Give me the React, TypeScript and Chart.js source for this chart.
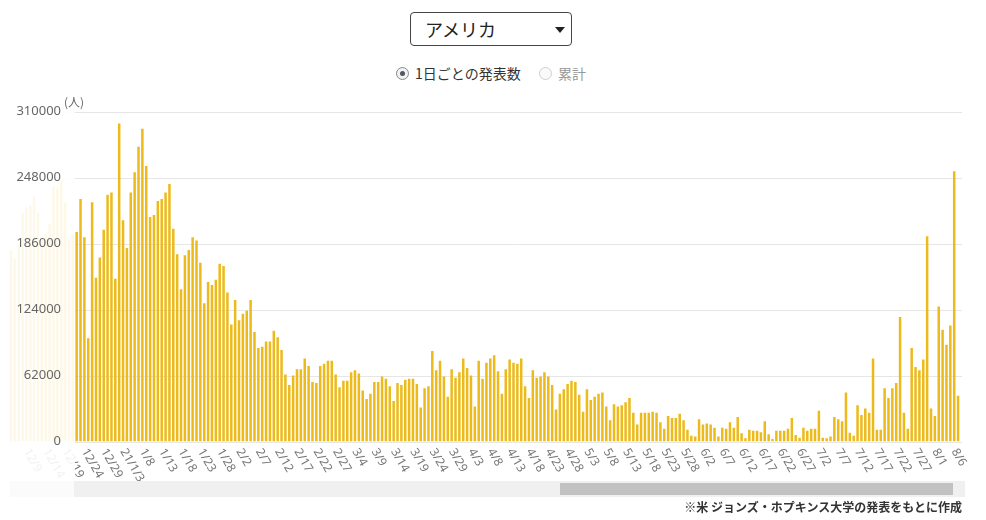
import { useEffect, useRef } from "react";
import { Chart, registerables } from "chart.js";
Chart.register(...registerables);

// 12/5/2020 .. 12/21/2020 (scrolled out, shown faded under the y axis panel)
const hiddenCases = [
  180000, 172000, 185000, 215000, 220000, 222000, 230000, 215000, 190000,
  195000, 205000, 240000, 238000, 245000, 225000, 190000, 195000,
];

// 12/22/2020 .. 8/7/2021
const dailyCases = [
  197000, 228000, 192000, 97000, 225000, 154000, 173000, 199000, 232000, 234000,
  153000, 299000, 208000, 182000, 234000, 253000, 277000, 294000, 259000, 211000,
  213000, 226000, 228000, 234000, 242000, 200000, 176000, 143000, 175000, 180000,
  192000, 189000, 168000, 130000, 150000, 147000, 152000, 167000, 165000, 140000,
  110000, 133000, 114000, 120000, 123000, 133000, 103000, 88000, 89000, 94000,
  94000, 104000, 98000, 86000, 63000, 53000, 62000, 68000, 68000, 78000,
  71000, 56000, 55000, 71000, 73000, 76000, 76000, 63000, 51000, 57000,
  57000, 65000, 67000, 64000, 48000, 40000, 45000, 56000, 56000, 61000,
  59000, 52000, 38000, 55000, 53000, 58000, 59000, 59000, 54000, 32000,
  50000, 52000, 85000, 67000, 76000, 61000, 42000, 68000, 60000, 65000,
  78000, 69000, 62000, 33000, 76000, 59000, 74000, 78000, 81000, 66000,
  45000, 68000, 77000, 74000, 73000, 78000, 52000, 41000, 67000, 60000,
  61000, 65000, 61000, 53000, 30000, 45000, 49000, 54000, 57000, 56000,
  44000, 28000, 49000, 39000, 42000, 45000, 46000, 33000, 20000, 35000,
  33000, 34000, 37000, 41000, 27000, 16000, 27000, 27000, 27000, 28000,
  27000, 18000, 12000, 24000, 22000, 22000, 26000, 20000, 11000, 5500,
  4600, 21000, 16000, 17000, 16000, 13000, 4600, 13000, 12000, 18000,
  13000, 23000, 7700, 3000, 11000, 10000, 10000, 8600, 19000, 6800,
  2400, 10000, 10000, 10000, 12000, 22000, 6000, 3500, 13000, 10000,
  12000, 12000, 29000, 3600, 3000, 4600, 23000, 21000, 19000, 46000,
  8300, 5500, 34000, 25000, 31000, 27000, 78000, 11000, 11000, 50000,
  41000, 50000, 55000, 117000, 27000, 12000, 88000, 70000, 67000, 77000,
  193000, 31000, 24000, 127000, 105000, 91000, 109000, 254000, 43000,
];

const values = [...hiddenCases, ...dailyCases];

// one category per day starting 2020-12-05
const categories: string[] = [];
{
  const d = new Date(2020, 11, 5);
  for (let i = 0; i < values.length; i++) {
    categories.push(`${d.getMonth() + 1}/${d.getDate()}`);
    d.setDate(d.getDate() + 1);
  }
}

const yTicks = [0, 62000, 124000, 186000, 248000, 310000];

// x labels every 5 days, starting at 12/9
const tickStart = categories.indexOf("12/9");
const tickStep = 5;
const tickLabels = [
  "12/9", "12/14", "12/19", "12/24", "12/29", "21/1/3", "1/8", "1/13", "1/18",
  "1/23", "1/28", "2/2", "2/7", "2/12", "2/17", "2/22", "2/27", "3/4", "3/9",
  "3/14", "3/19", "3/24", "3/29", "4/3", "4/8", "4/13", "4/18", "4/23", "4/28",
  "5/3", "5/8", "5/13", "5/18", "5/23", "5/28", "6/2", "6/7", "6/12", "6/17",
  "6/22", "6/27", "7/2", "7/7", "7/12", "7/17", "7/22", "7/27", "8/1", "8/6",
];

const CANVAS_TOP = 95;
const FADE_RIGHT = 75; // right edge of the fixed y axis panel
const GRID_LEFT = 63;
const LABEL_FONT = "12px 'Noto Sans', 'Noto Sans CJK JP', sans-serif";
const JP_FONT = "'Noto Sans CJK JP', 'Noto Sans', sans-serif";

const decorPlugin = {
  id: "decor",
  beforeDatasetsDraw(chart: any) {
    const { ctx, chartArea } = chart;
    const y = chart.scales.y;
    ctx.save();
    ctx.strokeStyle = "#e6e6e6";
    ctx.lineWidth = 1;
    yTicks.forEach((v) => {
      const py = Math.round(y.getPixelForValue(v)) + 0.5;
      ctx.beginPath();
      ctx.moveTo(GRID_LEFT, py);
      ctx.lineTo(chartArea.right + 2, py);
      ctx.stroke();
    });
    ctx.restore();
  },
  afterDatasetsDraw(chart: any) {
    const { ctx, chartArea } = chart;
    const x = chart.scales.x;
    const y = chart.scales.y;
    ctx.save();

    // rotated date labels
    ctx.font = LABEL_FONT;
    ctx.fillStyle = "#777";
    ctx.textAlign = "left";
    ctx.textBaseline = "middle";
    tickLabels.forEach((t, i) => {
      const px = x.getPixelForValue(tickStart + i * tickStep);
      ctx.save();
      ctx.translate(px, chartArea.bottom + 8);
      ctx.rotate(Math.PI / 3);
      ctx.fillText(t, 0, 0);
      ctx.restore();
    });

    // fixed y axis panel over the scrolled-out part
    ctx.fillStyle = "rgba(255,255,255,0.9)";
    ctx.fillRect(0, 0, FADE_RIGHT, chart.height);

    // y tick labels
    ctx.fillStyle = "#666";
    ctx.textAlign = "right";
    ctx.font = "13px 'Noto Sans', sans-serif";
    yTicks.forEach((v) => {
      ctx.fillText(String(v), 61, y.getPixelForValue(v));
    });
    ctx.textAlign = "left";
    ctx.font = "12px " + JP_FONT;
    ctx.fillText("(人)", 64, y.getPixelForValue(310000) - 9);
    ctx.restore();
  },
};

const App = () => {
  const chartRef = useRef<HTMLCanvasElement | null>(null);

  useEffect(() => {
    if (!chartRef.current) return;
    const ctx = chartRef.current.getContext("2d");
    if (!ctx) return;
    const chart = new Chart(ctx, {
      type: "bar",
      data: {
        labels: categories,
        datasets: [
          {
            data: values,
            backgroundColor: "#edba1c",
            barPercentage: 0.65,
            categoryPercentage: 1,
          },
        ],
      },
      options: {
        animation: false,
        responsive: true,
        maintainAspectRatio: false,
        layout: {
          padding: { left: 9, right: 26, top: 111.7 - CANVAS_TOP, bottom: 500 - 441.5 },
        },
        plugins: {
          legend: { display: false },
          tooltip: { enabled: false },
        },
        scales: {
          x: { display: false },
          y: { display: false, min: 0, max: 310000 },
        },
      },
      plugins: [decorPlugin],
    });
    return () => chart.destroy();
  }, []);

  const radio = (on: boolean) => (
    <span
      style={{
        position: "absolute",
        width: 13,
        height: 13,
        boxSizing: "border-box",
        borderRadius: "50%",
        border: on ? "1px solid #8a8a8a" : "1px solid #cfcfcf",
        background: on ? "#f2f2f2" : "#fafafa",
      }}
    >
      {on && (
        <span
          style={{
            position: "absolute",
            left: 3,
            top: 3,
            width: 5,
            height: 5,
            borderRadius: "50%",
            background: "#4d5866",
          }}
        />
      )}
    </span>
  );

  return (
    <div
      style={{
        position: "absolute",
        left: 0,
        top: 0,
        width: 986,
        height: 520,
        fontFamily: JP_FONT,
        background: "#fff",
        overflow: "hidden",
      }}
    >
      <div
        style={{
          position: "absolute",
          left: 410,
          top: 12,
          width: 162,
          height: 34,
          boxSizing: "border-box",
          border: "1px solid #444",
          borderRadius: 4,
        }}
      >
        <span
          style={{
            position: "absolute",
            left: 14,
            top: 4,
            fontSize: 18,
            lineHeight: "24px",
            color: "#222",
          }}
        >
          アメリカ
        </span>
        <span
          style={{
            position: "absolute",
            right: 6,
            top: 14,
            width: 0,
            height: 0,
            borderLeft: "5px solid transparent",
            borderRight: "5px solid transparent",
            borderTop: "6px solid #222",
          }}
        />
      </div>

      <div style={{ position: "absolute", left: 396, top: 67 }}>{radio(true)}</div>
      <span
        style={{
          position: "absolute",
          left: 415,
          top: 63,
          fontSize: 14,
          lineHeight: "20px",
          color: "#333",
        }}
      >
        1日ごとの発表数
      </span>
      <div style={{ position: "absolute", left: 539, top: 67 }}>{radio(false)}</div>
      <span
        style={{
          position: "absolute",
          left: 558,
          top: 63,
          fontSize: 14,
          lineHeight: "20px",
          color: "#999",
        }}
      >
        累計
      </span>

      <div
        style={{
          position: "absolute",
          left: 0,
          top: CANVAS_TOP,
          width: 986,
          height: 405,
        }}
      >
        <canvas ref={chartRef}></canvas>
      </div>

      <div
        style={{
          position: "absolute",
          left: 10,
          top: 481,
          width: 955,
          height: 16,
          background: "#f0f0f0",
        }}
      />
      <div
        style={{
          position: "absolute",
          left: 10,
          top: 481,
          width: 64,
          height: 16,
          background: "#fbfbfb",
        }}
      />
      <div
        style={{
          position: "absolute",
          left: 560,
          top: 483,
          width: 393,
          height: 12,
          background: "#c2c2c2",
        }}
      />

      <div
        style={{
          position: "absolute",
          left: 560,
          top: 498,
          width: 402,
          textAlign: "right",
          fontSize: 12,
          fontWeight: "bold",
          lineHeight: "18px",
          color: "#333",
        }}
      >
        ※米 ジョンズ・ホプキンス大学の発表をもとに作成
      </div>
    </div>
  );
};

export default App;
